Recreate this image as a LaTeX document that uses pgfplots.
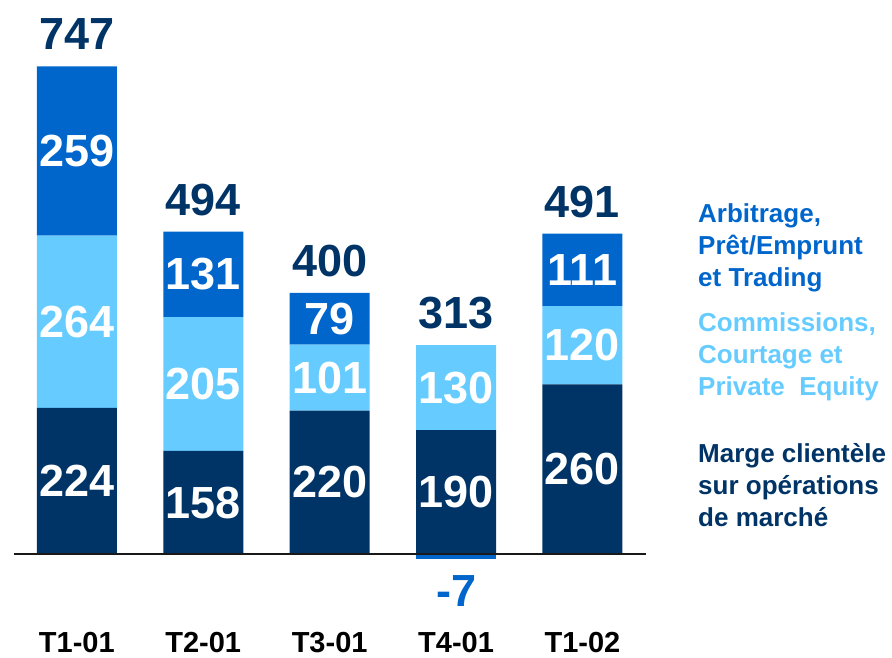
\documentclass[border=0pt]{standalone}
\usepackage{pgfplots}
\pgfplotsset{compat=1.18}
\usepackage{fontspec}
\setmainfont{Liberation Sans}
\definecolor{cdark}{HTML}{003366}
\definecolor{cmid}{HTML}{0066CC}
\definecolor{clight}{HTML}{66CCFF}
\newcommand\numfont{\fontsize{45}{50}\selectfont\bfseries}
\newcommand\catfont{\fontsize{29}{34}\selectfont\bfseries}
\newcommand\legfont{\fontsize{26}{32}\selectfont\bfseries}
\begin{document}
\begin{tikzpicture}[x=1pt,y=1pt]
\path[use as bounding box] (0,0) rectangle (892,658);
\pgfplotsset{base/.style={at={(10.8,59)}, anchor=south west, scale only axis,
  width=632pt, height=587.7pt, xmin=-0.5, xmax=4.5, ymin=-100, ymax=800,
  hide axis, clip=false, bar width=80pt}}
\begin{axis}[base, ybar stacked]
\addplot[fill=cdark, draw=none] coordinates {(0,224)(1,158)(2,220)(3,190)(4,260)};
\addplot[fill=clight, draw=none] coordinates {(0,264)(1,205)(2,101)(3,130)(4,120)};
\addplot[fill=cmid, draw=none] coordinates {(0,259)(1,131)(2,79)(3,0)(4,111)};
\end{axis}
\begin{axis}[base, ybar, bar shift=0pt]
\addplot[fill=cmid, draw=none] coordinates {(3,-7)};
\draw[black!90, line width=1.6pt] (axis cs:-0.5,0) -- (axis cs:4.5,0);
% inner value labels
\tikzset{lab/.style={font=\numfont, text=white, inner sep=0pt}}
\node[lab] at (axis cs:0,112) {224};
\node[lab] at (axis cs:0,356) {264};
\node[lab] at (axis cs:0,617.5) {259};
\node[lab] at (axis cs:1,79) {158};
\node[lab] at (axis cs:1,260.5) {205};
\node[lab] at (axis cs:1,428.5) {131};
\node[lab] at (axis cs:2,110) {220};
\node[lab] at (axis cs:2,270.5) {101};
\node[lab] at (axis cs:2,360.5) {79};
\node[lab] at (axis cs:3,95) {190};
\node[lab] at (axis cs:3,255) {130};
\node[lab] at (axis cs:4,130) {260};
\node[lab] at (axis cs:4,320) {120};
\node[lab] at (axis cs:4,435.5) {111};
\node[lab, text=cmid] at (axis cs:3,-57) {-7};
% totals
\tikzset{tot/.style={font=\numfont, text=cdark, inner sep=0pt}}
\node[tot] at (axis cs:0,796) {747};
\node[tot] at (axis cs:1,543) {494};
\node[tot] at (axis cs:2,449) {400};
\node[tot] at (axis cs:3,369) {313};
\node[tot] at (axis cs:4,540) {491};
% categories
\tikzset{cat/.style={font=\catfont, text=black, inner sep=0pt}}
\node[cat] at (axis cs:0,-135) {T1-01};
\node[cat] at (axis cs:1,-135) {T2-01};
\node[cat] at (axis cs:2,-135) {T3-01};
\node[cat] at (axis cs:3,-135) {T4-01};
\node[cat] at (axis cs:4,-135) {T1-02};
\end{axis}
% legend
\node[anchor=west, align=left, inner sep=0pt, font=\legfont, text=cmid] at (698,410) {Arbitrage,\\Prêt/Emprunt\\et Trading};
\node[anchor=west, align=left, inner sep=0pt, font=\legfont, text=clight] at (698,301) {Commissions,\\Courtage et\\Private~ Equity};
\node[anchor=west, align=left, inner sep=0pt, font=\legfont, text=cdark] at (698,173) {Marge clientèle\\sur opérations\\de marché};
\end{tikzpicture}
\end{document}
